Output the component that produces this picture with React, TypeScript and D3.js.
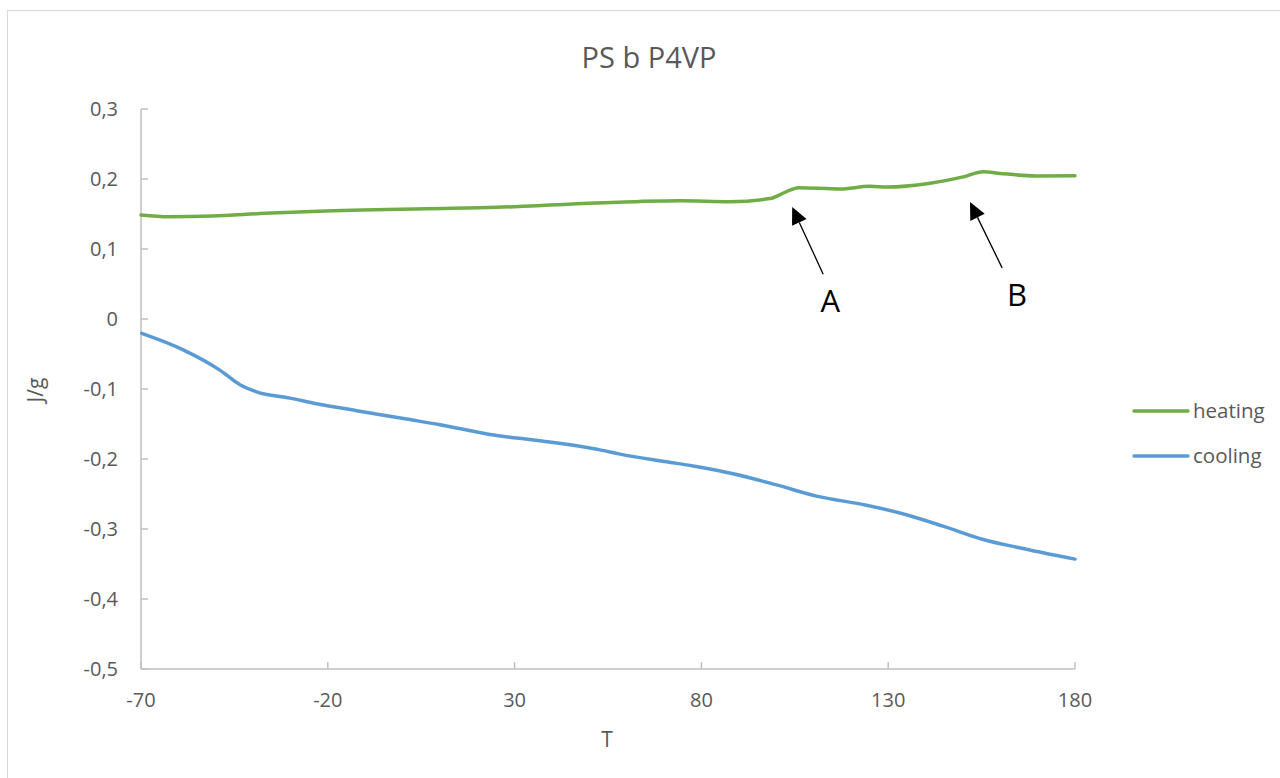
import React from "react";
import * as d3 from "d3";

const title = "PS b P4VP";
const xTicks = [-70, -20, 30, 80, 130, 180];
const yTicks = [0.3, 0.2, 0.1, 0, -0.1, -0.2, -0.3, -0.4, -0.5];

const heatingT = [-70, -62.6, -51, -36.8, -22.5, 6.2, 25.3, 44.4, 63.5, 74.3, 87.7, 98.4, 102.8, 106, 117.1, 125.1, 129.6, 141.2, 150.1, 155.4, 160, 169.7, 180];
const heatingV = [0.1486, 0.146, 0.147, 0.151, 0.154, 0.1576, 0.1596, 0.164, 0.168, 0.169, 0.1676, 0.172, 0.182, 0.1876, 0.1857, 0.1895, 0.1885, 0.194, 0.203, 0.2105, 0.208, 0.2043, 0.2047];

const coolingT = [-69.8, -58.7, -48.9, -43.5, -39.1, -30.1, -23, -12.3, 1.1, 10, 23.4, 36.8, 52.9, 58.2, 70.7, 77.8, 88.5, 100.1, 110.8, 124.2, 135.8, 144.7, 155.4, 164.4, 180];
const coolingV = [-0.0205, -0.044, -0.073, -0.094, -0.104, -0.113, -0.121, -0.131, -0.143, -0.151, -0.165, -0.174, -0.187, -0.193, -0.204, -0.21, -0.221, -0.237, -0.253, -0.266, -0.281, -0.296, -0.315, -0.326, -0.343];

const annotations = [
  { label: "A", tipT: 104.3, tipV: 0.16, tailT: 112.6, tailV: 0.064, textT: 114.5, textV: 0.01 },
  { label: "B", tipT: 151.9, tipV: 0.167, tailT: 160.5, tailV: 0.073, textT: 164.5, textV: 0.019 },
];

const series = [
  { name: "heating", color: "#70AD47", t: heatingT, v: heatingV },
  { name: "cooling", color: "#5B9BD5", t: coolingT, v: coolingV },
];

const FONT = "'Open Sans', 'Noto Sans', sans-serif";
const TEXT = "#595959";
const AXIS = "#BFBFBF";

export default function App() {
  const x = d3.scaleLinear().domain([-70, 180]).range([141, 1075]);
  const y = d3.scaleLinear().domain([-0.5, 0.3]).range([669, 109]);
  const line = d3
    .line<[number, number]>()
    .x((d) => x(d[0]))
    .y((d) => y(d[1]))
    .curve(d3.curveMonotoneX);
  const fmt = (v: number) => {
    const s = d3.format(".1f")(v).replace(".", ",");
    return v === 0 ? "0" : s.replace("−", "-");
  };

  return (
    <svg
      width={1280}
      height={778}
      style={{ position: "absolute", left: 0, top: 0, display: "block", background: "#fff" }}
    >
      <rect x={7.5} y={10.5} width={1300} height={800} fill="#fff" stroke="#D9D9D9" strokeWidth={1} />
      <text x={649} y={68} textAnchor="middle" fontFamily={FONT} fontSize={29} fill={TEXT}>
        {title}
      </text>

      {/* axes */}
      <line x1={x(-70)} x2={x(-70)} y1={y(0.3)} y2={y(-0.5)} stroke={AXIS} strokeWidth={1.5} />
      <line x1={x(-70)} x2={x(180)} y1={y(-0.5)} y2={y(-0.5)} stroke={AXIS} strokeWidth={1.5} />
      {yTicks.map((t) => (
        <g key={"y" + t}>
          <line x1={x(-70)} x2={x(-70) + 7} y1={y(t)} y2={y(t)} stroke={AXIS} strokeWidth={1.5} />
          <text x={118} y={y(t)} dy="0.35em" textAnchor="end" fontFamily={FONT} fontSize={20} fill={TEXT}>
            {fmt(t)}
          </text>
        </g>
      ))}
      {xTicks.map((t) => (
        <g key={"x" + t}>
          <line x1={x(t)} x2={x(t)} y1={y(-0.5)} y2={y(-0.5) - 7} stroke={AXIS} strokeWidth={1.5} />
          <text x={x(t)} y={700} dy="0.35em" textAnchor="middle" fontFamily={FONT} fontSize={20} fill={TEXT}>
            {String(t)}
          </text>
        </g>
      ))}
      <text x={607} y={740} dy="0.35em" textAnchor="middle" fontFamily={FONT} fontSize={21} fill={TEXT}>
        T
      </text>
      <text
        transform={`translate(36,390) rotate(-90)`}
        dy="0.35em"
        textAnchor="middle"
        fontFamily={FONT}
        fontSize={21}
        fill={TEXT}
      >
        J/g
      </text>

      {series.map((s) => (
        <path
          key={s.name}
          d={line(s.t.map((t, i) => [t, s.v[i]] as [number, number])) || ""}
          fill="none"
          stroke={s.color}
          strokeWidth={3.5}
          strokeLinecap="round"
          strokeLinejoin="round"
        />
      ))}

      {annotations.map((a) => {
        const x1 = x(a.tailT), y1 = y(a.tailV), x2 = x(a.tipT), y2 = y(a.tipV);
        const ang = Math.atan2(y2 - y1, x2 - x1);
        const L = 17, W = 8;
        const bx = x2 - L * Math.cos(ang), by = y2 - L * Math.sin(ang);
        const px = -Math.sin(ang) * W, py = Math.cos(ang) * W;
        return (
          <g key={a.label}>
            <line x1={x1} y1={y1} x2={bx} y2={by} stroke="#000" strokeWidth={1.3} />
            <polygon points={`${x2},${y2} ${bx + px},${by + py} ${bx - px},${by - py}`} fill="#000" />
            <text x={x(a.textT)} y={y(a.textV)} textAnchor="middle" fontFamily={FONT} fontSize={31} fill="#000">
              {a.label}
            </text>
          </g>
        );
      })}

      {series.map((s, i) => (
        <g key={"leg" + s.name}>
          <line x1={1134} x2={1188} y1={411 + i * 45} y2={411 + i * 45} stroke={s.color} strokeWidth={3.5} strokeLinecap="round" />
          <text x={1193} y={411 + i * 45} dy="0.35em" fontFamily={FONT} fontSize={20.5} fill={TEXT}>
            {s.name}
          </text>
        </g>
      ))}
    </svg>
  );
}
